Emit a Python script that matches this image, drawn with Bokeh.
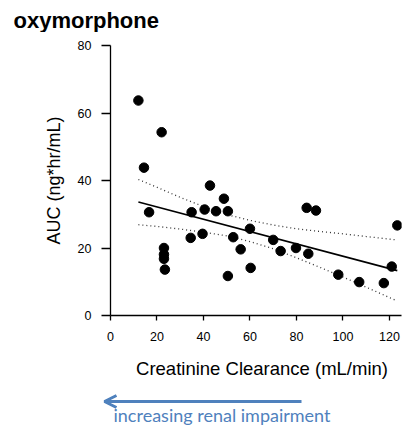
from bokeh.plotting import figure
from bokeh.layouts import column
from bokeh.models import Arrow, OpenHead, FixedTicker, Range1d
from bokeh.core.properties import value
from bokeh.embed import file_html
from bokeh.resources import INLINE

# ---- data ----
crcl = [12.0, 22.0, 14.4, 16.6, 23.0, 23.0, 23.0, 23.4, 34.9, 34.5, 39.6, 40.5,
        42.8, 45.4, 48.8, 50.5, 50.5, 52.8, 56.0, 60.0, 60.3, 70.0, 73.2, 79.8,
        84.4, 88.4, 85.1, 98.0, 107.0, 117.6, 121.0, 123.4]
auc = [63.7, 54.3, 43.8, 30.6, 20.0, 18.1, 16.8, 13.6, 30.6, 23.0, 24.2, 31.4,
       38.5, 30.9, 34.6, 30.9, 11.7, 23.2, 19.6, 25.7, 14.1, 22.4, 19.1, 20.0,
       31.9, 31.1, 18.3, 12.1, 9.9, 9.6, 14.5, 26.7]

fit_x = [12.0, 123.4]
fit_y = [33.6, 13.3]

ci_x = [12, 20, 30, 40, 50, 60, 70, 80, 90, 100, 110, 123]
ci_upper = [40.3, 38.0, 35.0, 32.3, 29.9, 28.2, 26.8, 25.7, 24.9, 24.2, 23.4, 22.4]
ci_lower = [26.9, 26.4, 25.6, 24.7, 23.6, 21.9, 19.8, 17.1, 14.3, 11.4, 8.4, 4.4]

x_ticks = [0, 20, 40, 60, 80, 100, 120]
y_ticks = [0, 20, 40, 60, 80]

title_text = "oxymorphone"
x_label = "Creatinine Clearance (mL/min)"
y_label = "AUC (ng*hr/mL)"
note_text = "increasing renal impairment"

BLUE = "#4f81bd"
W = 404


def strip(height, y_top, y_bottom):
    """A plain figure whose frame fills it, in page-like pixel coordinates."""
    f = figure(width=W, height=height, output_backend="svg", toolbar_location=None,
               x_range=Range1d(0, W), y_range=Range1d(y_bottom, y_top),
               min_border=0, min_border_left=0, min_border_right=0,
               min_border_top=0, min_border_bottom=0, frame_align=False)
    f.frame_width = W
    f.frame_height = height
    f.axis.visible = False
    f.grid.visible = False
    f.outline_line_color = None
    f.background_fill_color = "white"
    f.border_fill_color = "white"
    return f


# ---- title strip (page y 0..32) ----
top = strip(32, 0, 32)
top.text(x=[13], y=[20], text=[title_text], text_font=value("Liberation Sans"),
         text_font_style="bold", text_font_size="22px", text_color="black",
         text_baseline="alphabetic", text_align="left")

# ---- main chart (page y 32..347) ----
p = figure(width=W, height=315, output_backend="svg", toolbar_location=None,
           x_range=Range1d(0, 125.2), y_range=Range1d(0, 80),
           min_border_left=110, min_border_right=3, min_border_top=13,
           min_border_bottom=32, frame_align=False)
p.frame_width = 291
p.frame_height = 270
p.outline_line_color = None
p.xgrid.visible = False
p.ygrid.visible = False
p.background_fill_color = "white"
p.border_fill_color = "white"

for ax in (p.xaxis[0], p.yaxis[0]):
    ax.axis_line_color = "black"
    ax.axis_line_width = 1.3
    ax.major_tick_line_color = "black"
    ax.major_tick_line_width = 1.3
    ax.minor_tick_line_color = None
    ax.major_tick_in = 0
    ax.major_label_text_font = "Liberation Sans"
    ax.major_label_text_font_size = "12.5px"
    ax.major_label_text_color = "black"

p.xaxis.ticker = FixedTicker(ticks=x_ticks)
p.yaxis.ticker = FixedTicker(ticks=y_ticks)
p.xaxis.major_tick_out = 5
p.yaxis.major_tick_out = 9
p.xaxis.major_label_standoff = 11
p.yaxis.major_label_standoff = 10

p.yaxis.axis_label = y_label
p.yaxis.axis_label_text_font = "Liberation Sans"
p.yaxis.axis_label_text_font_size = "18px"
p.yaxis.axis_label_text_font_style = "normal"
p.yaxis.axis_label_text_color = "black"
p.yaxis.axis_label_standoff = 11

# confidence band (dotted) and regression line
p.line(ci_x, ci_upper, line_color="#333333", line_width=1.3, line_dash="1 3")
p.line(ci_x, ci_lower, line_color="#333333", line_width=1.3, line_dash="1 3")
p.line(fit_x, fit_y, line_color="black", line_width=1.6)

p.scatter(crcl, auc, size=9.5, fill_color="black", line_color="black")

# ---- bottom strip: x label, arrow, note (page y 347..425) ----
bot = strip(78, 347, 425)
bot.text(x=[261.5], y=[368], text=[x_label], text_font=value("Liberation Sans"),
         text_font_size="18.5px", text_color="black", text_align="center",
         text_baseline="alphabetic")
bot.add_layout(Arrow(x_start=301, y_start=401, x_end=104, y_end=401,
                     line_color=BLUE, line_width=3,
                     end=OpenHead(size=12, line_color=BLUE, line_width=3)))
bot.text(x=[113], y=[414], text=[note_text], text_font=value("Lato"),
         text_font_size="18px", text_color=BLUE, text_align="left",
         text_baseline="alphabetic")

layout = column(top, p, bot, spacing=0)
open("out.html", "w").write(file_html(layout, INLINE))
